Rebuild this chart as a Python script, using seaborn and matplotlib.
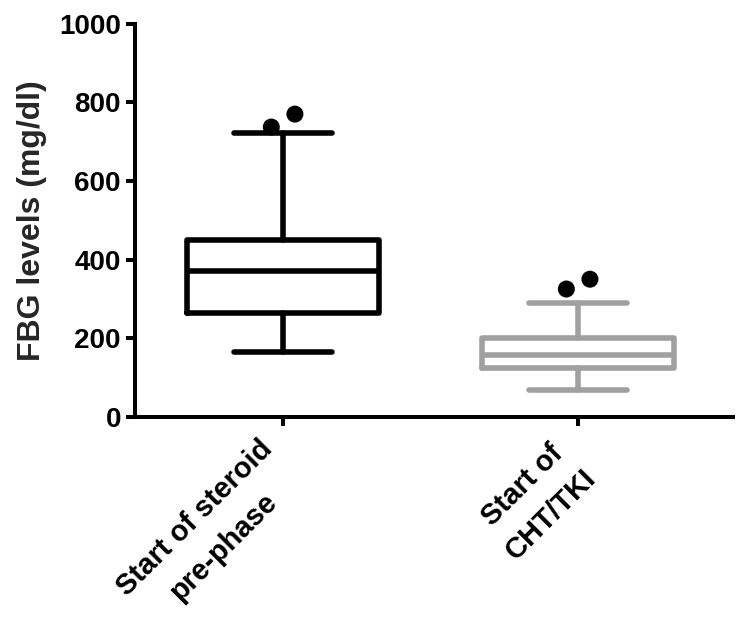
import matplotlib
matplotlib.use("Agg")
import matplotlib.pyplot as plt
import matplotlib.transforms as mtransforms
from matplotlib.font_manager import FontProperties
import numpy as np
import seaborn as sns
import pandas as pd

# box statistics (mg/dl)
groups = ["Start of steroid\npre-phase", "Start of\nCHT/TKI"]
whisker_low = [166, 69]
q1 = [265, 125]
median = [372, 156]
q3 = [449, 200]
whisker_high = [721, 289]
outliers = [[737, 770], [325, 350]]
outlier_offsets = [-0.04, 0.04]   # horizontal spread of outlier dots

box_colors = ["black", "#a0a0a0"]

sns.set_style("ticks")
plt.rcParams["font.family"] = ["Liberation Sans", "DejaVu Sans"]
plt.rcParams["font.weight"] = "bold"

fig = plt.figure(figsize=(7.36, 6.23), dpi=100)
ax = fig.add_axes([0.183, 0.331, 0.813, 0.631])

stats = []
for i, g in enumerate(groups):
    stats.append(dict(label=g, whislo=whisker_low[i], q1=q1[i], med=median[i],
                      q3=q3[i], whishi=whisker_high[i], fliers=[]))

for i, st in enumerate(stats):
    c = box_colors[i]
    lw = 4.0
    ax.bxp([st], positions=[i], widths=0.65, capwidths=0.33, showfliers=False,
           boxprops=dict(color=c, linewidth=lw),
           medianprops=dict(color=c, linewidth=lw),
           whiskerprops=dict(color=c, linewidth=lw),
           capprops=dict(color=c, linewidth=lw),
           manage_ticks=False)

rows = []
for i, vals in enumerate(outliers):
    for j, v in enumerate(vals):
        rows.append({"x": i + outlier_offsets[j], "y": v})
out_df = pd.DataFrame(rows)
sns.scatterplot(data=out_df, x="x", y="y", color="black", s=150,
                edgecolor="none", ax=ax, legend=False)

ax.set_xlim(-0.503, 1.525)
ax.set_ylim(0, 1000)
ax.set_yticks([0, 200, 400, 600, 800, 1000])
ax.set_xticks([0, 1])
ax.set_xticklabels([])

ax.tick_params(axis="both", width=2.9, length=6.5, color="black",
               labelsize=20, labelcolor="black")
ax.tick_params(axis="y", pad=3.4)
for t in ax.get_yticklabels():
    t.set_fontweight("bold")

# rotated, centred two-line category labels, one text per line
label_size = 21
line_gap = 41          # px between lines, perpendicular to the text
anchor_dx, anchor_dy = -25, -18   # px from tick to top-right of the label block
fp = FontProperties(family=["Liberation Sans", "DejaVu Sans"], weight="bold", size=label_size)
renderer = fig.canvas.get_renderer()
along = np.array([np.cos(np.pi / 4), np.sin(np.pi / 4)])
perp = np.array([np.sin(np.pi / 4), -np.cos(np.pi / 4)])
base_tr = mtransforms.blended_transform_factory(ax.transData, ax.transAxes)
for i, g in enumerate(groups):
    lines = g.split("\n")
    widths = [renderer.get_text_width_height_descent(l, fp, ismath=False)[0] for l in lines]
    block_w = max(widths)
    for k, line in enumerate(lines):
        off = np.array([anchor_dx, anchor_dy]) - along * block_w / 2 + perp * line_gap * k
        tr = base_tr + mtransforms.ScaledTranslation(off[0] / fig.dpi, off[1] / fig.dpi,
                                                     fig.dpi_scale_trans)
        ax.text(i, 0, line, transform=tr, rotation=45, ha="center", va="top",
                rotation_mode="anchor", fontproperties=fp, color="black")

ax.set_xlabel("")
ax.set_ylabel("FBG levels (mg/dl)", fontsize=23, fontweight="bold", labelpad=9)

sns.despine(ax=ax)
for s in ["left", "bottom"]:
    ax.spines[s].set_linewidth(2.9)
    ax.spines[s].set_color("black")

fig.savefig("out.png", dpi=100, facecolor="white")
